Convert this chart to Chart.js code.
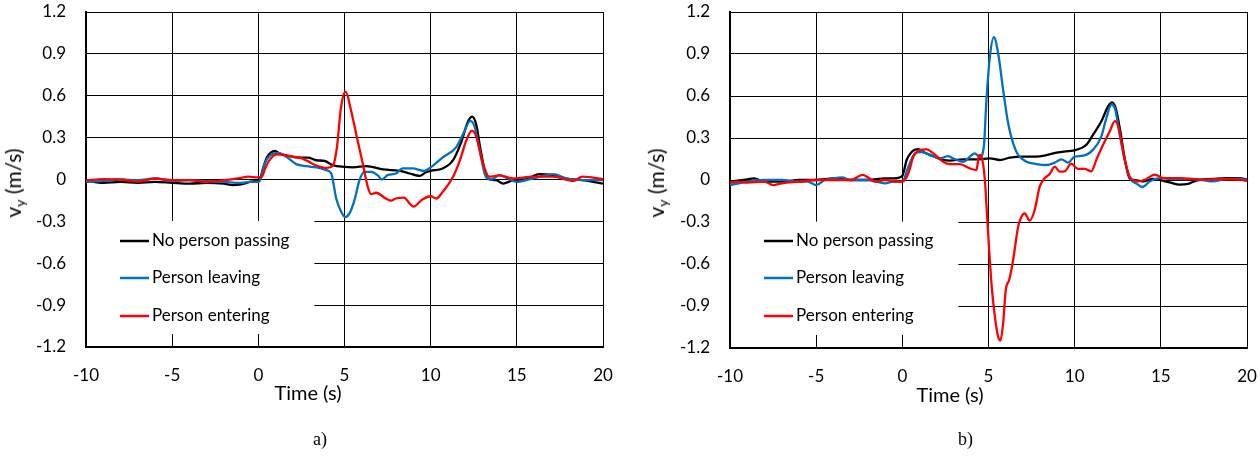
<!DOCTYPE html>
<html>
<head>
<meta charset="utf-8">
<script src="https://cdn.jsdelivr.net/npm/chart.js@4.4.0/dist/chart.umd.min.js"></script>
<style>
  body { margin: 0; width: 1260px; height: 457px; background: #fff; position: relative; overflow: hidden; font-family: Lato, sans-serif; }
  canvas { position: absolute; top: 0; display: block; }
  .lbl { position: absolute; font-size: 20px; color: #000; white-space: nowrap; transform: translate(-50%, -50%); }
  .ytitle { font-size: 21px; transform: translate(-50%, -50%) rotate(-90deg); }
  .ytitle sub { font-size: 14px; vertical-align: -4px; }
  .cap { position: absolute; font-family: "Liberation Serif", serif; font-size: 18px; }
</style>
</head>
<body>
<canvas id="chartA" width="630" height="457" style="left:0"></canvas>
<canvas id="chartB" width="630" height="457" style="left:630px"></canvas>
<div class="lbl ytitle" style="left:14px;top:183px">v<sub>y</sub> (m/s)</div>
<div class="lbl ytitle" style="left:657px;top:183px">v<sub>y</sub> (m/s)</div>
<div class="lbl" style="left:308px;top:392px">Time (s)</div>
<div class="lbl" style="left:950px;top:394px">Time (s)</div>
<div class="cap" style="left:313px;top:429px">a)</div>
<div class="cap" style="left:958px;top:429px">b)</div>
<script>
// оси
const xTicks = [-10, -5, 0, 5, 10, 15, 20];
const yTicks = [-1.2, -0.9, -0.6, -0.3, 0, 0.3, 0.6, 0.9, 1.2];
const seriesNames = ['No person passing', 'Person leaving', 'Person entering'];
const seriesColors = ['#000000', '#0070C0', '#FF0000'];

// a) — время (с) и скорость vy (м/с)
const tBlackA = [-10,-9,-8,-7,-6,-5,-4,-3,-2,-1.5,-1,-0.5,0,0.1,0.3,0.5,0.7,0.96,1.25,1.83,2.4,2.88,3.37,3.85,4.33,5,5.5,6.27,7.24,8.2,8.78,9.36,9.7,10,10.7,11.3,11.78,12.16,12.41,12.65,12.9,13.3,13.8,14.2,14.8,15.5,16.3,17.1,17.9,18.8,20];
const vBlackA = [-0.005,-0.024,-0.017,-0.024,-0.017,-0.024,-0.03,-0.024,-0.03,-0.04,-0.035,-0.017,-0.005,0.007,0.09,0.16,0.19,0.205,0.186,0.167,0.157,0.157,0.138,0.133,0.102,0.09,0.087,0.096,0.072,0.062,0.043,0.026,0.05,0.062,0.079,0.139,0.27,0.414,0.45,0.39,0.21,0.007,-0.005,-0.029,-0.005,0,0.038,0.031,0.007,-0.005,-0.029];

const tBlueA = [-10,-9,-8,-7,-6,-5,-4,-3,-2,-1,-0.5,0,0.1,0.3,0.5,0.77,1.15,1.63,2.2,2.8,3.37,3.94,4.23,4.52,4.8,5.04,5.29,5.58,5.87,6.15,6.54,6.92,7.17,7.5,7.98,8.37,8.94,9.6,10.1,10.7,11.5,11.9,12.3,12.55,12.84,13.2,13.5,14,14.5,15,15.9,17.1,17.9,18.8,20];
const vBlueA = [-0.017,-0.01,0,-0.005,0.007,-0.01,-0.005,-0.012,-0.017,-0.024,-0.017,-0.017,-0.005,0.09,0.145,0.18,0.19,0.162,0.11,0.095,0.086,0.067,0.043,-0.136,-0.23,-0.27,-0.243,-0.148,-0.005,0.055,0.055,0.031,0,0.031,0.043,0.079,0.079,0.062,0.096,0.158,0.234,0.33,0.42,0.378,0.21,0.02,0,0.031,0.007,-0.017,0.007,0.038,0.007,-0.005,-0.005];

const tRedA = [-10,-9,-8,-7,-6,-5,-4,-3,-2,-1,-0.6,0,0.2,0.4,0.6,1.06,1.5,2,2.4,2.9,3.37,3.94,4.33,4.56,4.8,5.06,5.38,5.67,6.06,6.35,6.54,6.83,7.4,7.7,7.98,8.46,8.75,9,9.52,10,10.33,10.7,11.3,11.7,12.07,12.4,12.65,13.03,13.4,14,14.77,15.9,17.1,18.3,18.8,20];
const vRedA = [-0.005,0.002,0,-0.015,0.007,-0.005,-0.005,-0.017,-0.005,0.012,0.02,0.015,0.02,0.08,0.13,0.18,0.175,0.163,0.157,0.13,0.1,0.083,0.1,0.23,0.52,0.63,0.495,0.33,0.114,-0.052,-0.105,-0.095,-0.136,-0.152,-0.136,-0.13,-0.167,-0.195,-0.143,-0.12,-0.136,-0.088,0.02,0.139,0.28,0.35,0.306,0.115,0.02,0.03,0.007,0.02,0.02,-0.01,0.02,0.002];

// b)
const tBlackB = [-10,-9,-8.6,-8,-7,-6,-5,-4,-3,-2,-1,-0.5,0,0.25,0.54,0.93,1.22,1.8,2.37,2.76,3.53,4.3,5.08,5.66,6.24,7,7.78,8.36,8.94,9.5,9.9,10.68,11.07,11.55,11.94,12.17,12.38,12.65,12.9,13.2,13.6,13.97,14.55,15.5,16.1,16.5,17.1,18,18.8,19.6,20];
const vBlackB = [-0.012,0.005,0.012,-0.012,-0.012,0,0,0.012,0,0,0.012,0.012,0.03,0.143,0.2,0.22,0.2,0.17,0.143,0.138,0.148,0.148,0.155,0.143,0.16,0.167,0.167,0.178,0.195,0.205,0.21,0.252,0.324,0.42,0.526,0.555,0.514,0.348,0.157,0.007,-0.002,-0.01,0.007,-0.017,-0.033,-0.03,-0.002,0.007,0.014,0.014,0.002];

const tBlueB = [-10,-9.5,-9,-8,-7,-6,-5.5,-5,-4.5,-4,-3.5,-3,-2,-1.5,-1,-0.5,0,0.35,0.73,1.12,1.6,2.18,2.66,3.05,3.53,3.92,4.2,4.5,4.73,4.88,5.08,5.31,5.56,5.85,6.14,6.43,6.72,7.2,7.78,8.36,8.84,9.23,9.61,10,10.5,11.07,11.55,11.84,12.13,12.33,12.6,12.9,13.2,13.59,13.93,14.36,15,15.7,16.88,18,18.8,19.6,20];
const vBlueB = [-0.036,-0.024,-0.012,0,0,-0.012,-0.012,-0.036,0,0.012,0.019,0,0,-0.012,-0.024,-0.012,-0.012,0.095,0.19,0.2,0.178,0.155,0.17,0.148,0.13,0.167,0.19,0.162,0.24,0.57,0.88,1.02,0.905,0.643,0.405,0.262,0.179,0.131,0.114,0.107,0.124,0.148,0.124,0.167,0.174,0.217,0.312,0.443,0.538,0.514,0.336,0.145,0.014,-0.026,-0.05,-0.01,0.014,0.007,0.007,-0.01,0.007,0.01,-0.002];

const tRedB = [-10,-9.5,-9,-8,-7.5,-7,-6,-5,-4,-3,-2.3,-2,-1.6,-1,-0.3,0,0.35,0.64,1.02,1.41,1.8,2.37,2.76,3.34,3.92,4.3,4.46,4.59,4.79,4.92,5.04,5.17,5.37,5.56,5.69,5.85,6,6.2,6.43,6.72,6.91,7.1,7.39,7.68,7.97,8.26,8.55,8.84,9.13,9.42,9.8,10.19,10.58,10.97,11.26,11.65,12.04,12.33,12.53,12.72,12.97,13.24,13.68,14.07,14.65,15.14,16.1,17.27,18.43,19.6,20];
const vRedB = [-0.019,-0.012,-0.019,-0.012,-0.036,-0.024,-0.012,0,0,0,0.036,0.019,-0.012,0,-0.012,-0.012,0.048,0.167,0.214,0.219,0.19,0.131,0.114,0.114,0.083,0.071,0.179,0.167,0,-0.262,-0.5,-0.738,-0.976,-1.12,-1.148,-1.024,-0.786,-0.714,-0.571,-0.333,-0.262,-0.238,-0.29,-0.214,-0.048,0.012,0.043,0.095,0.06,0.062,0.117,0.079,0.079,0.062,0.145,0.252,0.348,0.42,0.383,0.264,0.11,0.014,-0.01,0.002,0.038,0.014,0.014,0.002,0.007,0.002,-0.007];

function pts(t, v) {
    return t.map((x, i) => ({ x: x, y: v[i] }));
}

// выравнивание линии по пикселю, как у Chart.js
function alignPx(p) {
    return Math.round(p - 0.5) + 0.5;
}

// легенда поверх области графика (белая подложка, как в Excel)
const insideLegend = {
    id: 'insideLegend',
    afterDatasetsDraw(chart) {
        const ctx = chart.ctx;
        const area = chart.chartArea;
        const xs = chart.scales.x, ys = chart.scales.y;
        const boxRight = xs.getPixelForValue(3.25);
        const boxTop = ys.getPixelForValue(-0.297);
        const boxBottom = area.bottom - 13;
        ctx.save();
        ctx.fillStyle = '#fff';
        ctx.fillRect(area.left + 1, boxTop, boxRight - area.left - 1, boxBottom - boxTop);
        // засечки оси X внутри легенды
        ctx.strokeStyle = '#000';
        ctx.lineWidth = 1;
        xTicks.filter(v => v > -10 && v < 3.25).forEach(v => {
            const px = alignPx(xs.getPixelForValue(v));
            ctx.beginPath();
            ctx.moveTo(px, area.bottom);
            ctx.lineTo(px, boxBottom);
            ctx.stroke();
        });
        ctx.font = '17px Lato';
        ctx.textBaseline = 'middle';
        ctx.fillStyle = '#000';
        const rows = [229, 266, 304];
        seriesNames.forEach((name, i) => {
            const y = area.top + rows[i];
            ctx.strokeStyle = seriesColors[i];
            ctx.lineWidth = 2.5;
            ctx.beginPath();
            ctx.moveTo(area.left + 34, y);
            ctx.lineTo(area.left + 63, y);
            ctx.stroke();
            ctx.fillText(name, area.left + 66, y);
        });
        ctx.restore();
    }
};

// отступы подписей не должны сдвигать область построения
function noScalePadding(s) {
    s.paddingTop = 0;
    s.paddingBottom = 0;
    s.paddingLeft = 0;
    s.paddingRight = 0;
}

function makeChart(id, data, yWidth, padRight, xHeight) {
    const ds = data.map((d, i) => ({
        label: seriesNames[i],
        data: d,
        borderColor: seriesColors[i],
        borderWidth: 2.3,
        pointRadius: 0,
        cubicInterpolationMode: 'monotone',
        fill: false,
        order: 2 - i
    }));
    return new Chart(document.getElementById(id), {
        type: 'line',
        data: { datasets: ds },
        plugins: [insideLegend],
        options: {
            responsive: false,
            animation: false,
            layout: { padding: { left: 0, top: 12, right: padRight, bottom: 0 } },
            plugins: { legend: { display: false }, tooltip: { enabled: false } },
            scales: {
                x: {
                    type: 'linear', min: -10, max: 20,
                    afterBuildTicks: s => { s.ticks = xTicks.map(v => ({ value: v })); },
                    afterFit: s => { s.height = xHeight; noScalePadding(s); },
                    grid: { color: '#000', lineWidth: 1, drawTicks: false },
                    border: { color: '#000', width: 2 },
                    ticks: { padding: 18, color: '#000', font: { family: 'Lato', size: 17 }, maxRotation: 0 }
                },
                y: {
                    min: -1.2, max: 1.2,
                    afterBuildTicks: s => { s.ticks = yTicks.map(v => ({ value: v })); },
                    afterFit: s => { s.width = yWidth; noScalePadding(s); },
                    grid: { color: '#000', lineWidth: 1, drawTicks: false },
                    border: { color: '#000', width: 2 },
                    ticks: {
                        padding: 20, color: '#000', font: { family: 'Lato', size: 17 },
                        callback: v => Math.abs(v) < 1e-9 ? '0' : v.toFixed(1)
                    }
                }
            }
        }
    });
}

makeChart('chartA', [pts(tBlackA, vBlackA), pts(tBlueA, vBlueA), pts(tRedA, vRedA)], 86, 27, 110);
makeChart('chartB', [pts(tBlackB, vBlackB), pts(tBlueB, vBlueB), pts(tRedB, vRedB)], 100, 13, 109);
</script>
</body>
</html>
